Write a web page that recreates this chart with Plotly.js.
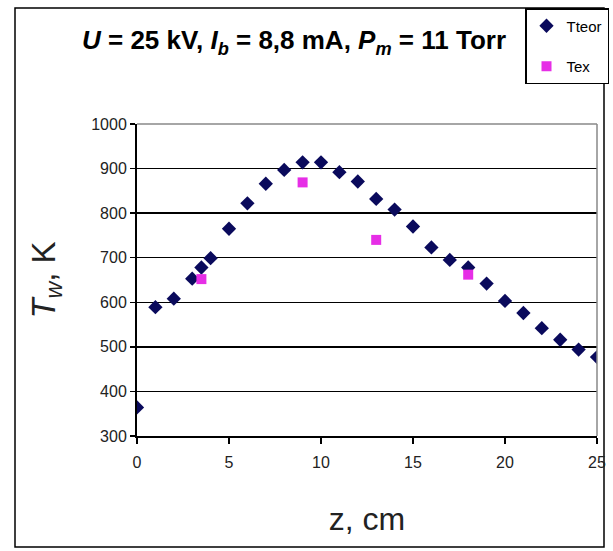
<!DOCTYPE html>
<html><head><meta charset="utf-8">
<script src="https://cdn.plot.ly/plotly-3.0.1.min.js"></script>
<style>html,body{margin:0;padding:0;background:#fff}#chart{width:613px;height:551px}</style>
</head><body><div id="chart"></div>
<script>
const zTeor = [0,1,2,3,3.5,4,5,6,7,8,9,10,11,12,13,14,15,16,17,18,19,20,21,22,23,24,25];
const tTeor = [364,589,608,653,678,699,765,822,866,897,914,914,892,871,832,808,770,723,695,678,642,603,576,542,516,494,477];
const zEx = [3.5,9,13,18];
const tEx = [652,869,740,662];
const xTicks = [0,5,10,15,20,25];
const yTicks = [300,400,500,600,700,800,900,1000];

const L=137,R=597,T=124,B=436,W=613,H=551;
const pw=R-L, ph=B-T;
const px = v => (v-L)/pw, py = v => (B-v)/ph;

const data = [
  {x:zTeor,y:tTeor,type:'scatter',mode:'markers',name:'Tteor',legendgroup:'a',
   marker:{symbol:'diamond',size:11,color:'#0a0a5c'}},
  {x:zEx,y:tEx,type:'scatter',mode:'markers',name:'Tex',legendgroup:'b',
   marker:{symbol:'square',size:10,color:'#e62ee6'}}
];
const layout = {
  width:W,height:H,margin:{l:L,r:W-R,t:T,b:H-B,autoexpand:false},
  paper_bgcolor:'#fff',plot_bgcolor:'#fff',
  font:{family:'Arial, Liberation Sans, sans-serif',color:'#000'},
  title:{text:'<b><i>U</i> = 25 kV, <i>I</i><sub><i>b</i></sub> = 8,8 mA, <i>P</i><sub><i>m</i></sub> = 11 Torr</b>',
    font:{size:26,color:'#000'},x:294/W,xanchor:'center',y:1-40/H,yanchor:'middle'},
  xaxis:{range:[0,25],tickvals:xTicks,ticktext:xTicks.map(String),showgrid:false,zeroline:false,automargin:false,
    showline:true,linecolor:'#000',linewidth:2,ticks:'outside',ticklen:6,tickwidth:2,tickcolor:'#000',
    tickfont:{size:16,color:'#222'},ticklabelstandoff:5,
    title:{text:'z, cm',font:{size:32,color:'#222'},standoff:37}},
  yaxis:{range:[300,1000],tickvals:yTicks,ticktext:yTicks.map(String),showgrid:true,gridcolor:'#000',gridwidth:1.5,
    zeroline:false,automargin:false,showline:true,linecolor:'#000',linewidth:2,ticks:'outside',ticklen:5,tickwidth:1.5,tickcolor:'#000',
    tickfont:{size:16,color:'#222'},
    title:{text:'<i>T</i><sub><i>w</i></sub>, K',font:{size:33,color:'#222'},standoff:26}},
  showlegend:true,
  legend:{x:px(525),y:py(8),xanchor:'left',yanchor:'top',
    bordercolor:'#000',borderwidth:1.5,bgcolor:'#fff',font:{size:15,color:'#000'},
    traceorder:'grouped',tracegroupgap:18,itemwidth:30},
  shapes:[
    {type:'rect',xref:'paper',yref:'paper',x0:px(15),x1:px(604),y0:py(547),y1:py(8),
     line:{color:'#000',width:1.5},layer:'below'},
    {type:'line',xref:'paper',yref:'paper',x0:1,x1:1,y0:0,y1:1,line:{color:'#888',width:1.5}},
    {type:'line',xref:'paper',yref:'paper',x0:0,x1:1,y0:1,y1:1,line:{color:'#888',width:1.5}}
  ]
};
Plotly.newPlot('chart',data,layout,{displayModeBar:false,staticPlot:true});
</script></body></html>
